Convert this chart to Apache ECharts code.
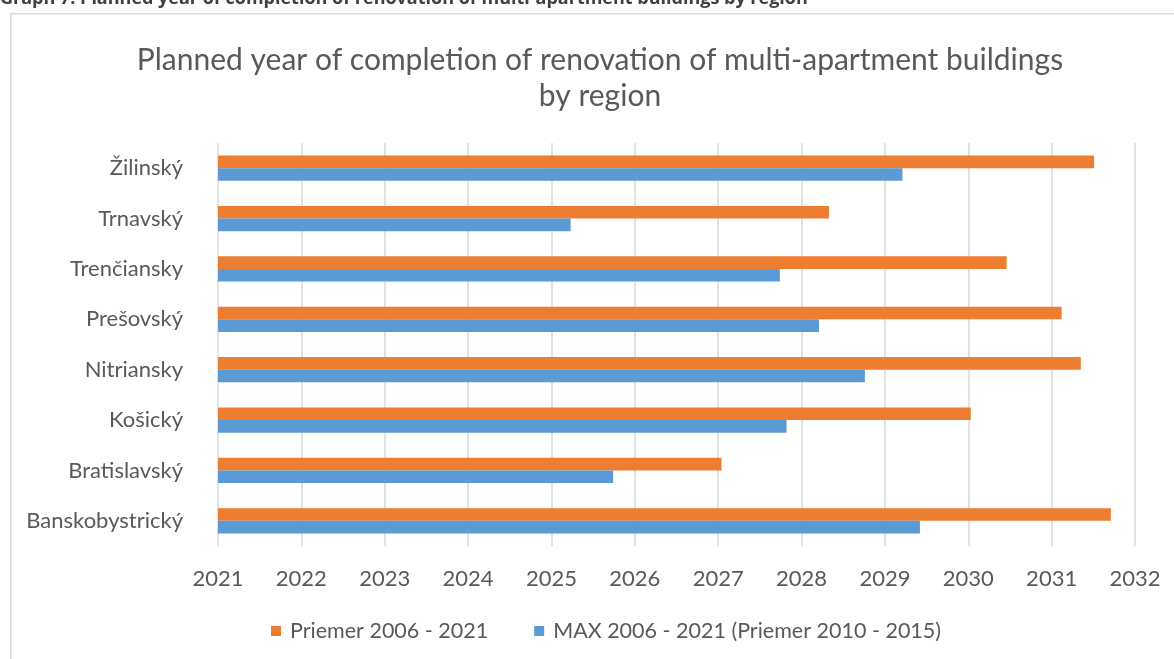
<!DOCTYPE html>
<html>
<head>
<meta charset="utf-8">
<script src="https://cdn.jsdelivr.net/npm/echarts@6/dist/echarts.min.js"></script>
<style>
  html, body { margin: 0; padding: 0; background: #fff; }
  #main { width: 1174px; height: 659px; }
</style>
</head>
<body>
<div id="main"></div>
<script>
// regions, bottom to top as drawn
var regions = ['Banskobystrický', 'Bratislavský', 'Košický', 'Nitriansky', 'Prešovský', 'Trenčiansky', 'Trnavský', 'Žilinský'];
var priemer = [2031.71, 2027.04, 2030.03, 2031.35, 2031.12, 2030.46, 2028.33, 2031.51];
var maxVals = [2029.42, 2025.74, 2027.82, 2028.76, 2028.21, 2027.74, 2025.23, 2029.21];
var seriesNames = ['Priemer 2006 - 2021', 'MAX 2006 - 2021 (Priemer 2010 - 2015)'];

var font = 'Lato';
var chart = echarts.init(document.getElementById('main'));
chart.setOption({
  animation: false,
  backgroundColor: '#fff',
  textStyle: { fontFamily: font },
  graphic: [
    {
      type: 'rect', left: 10, top: 13, z: -1,
      shape: { width: 1200, height: 700 },
      style: { fill: '#fff', stroke: '#d9d9d9', lineWidth: 1.5 }
    },
    {
      // page caption, cut off by the top edge
      type: 'text', x: 0, y: -10,
      style: {
        text: 'Graph 7: Planned year of completion of renovation of multi-apartment buildings by region',
        font: 'bold 18px "Open Sans"', fill: '#404040'
      }
    },
    {
      type: 'text', x: 600, y: 42,
      style: {
        text: 'Planned year of completion of renovation of multi-apartment buildings\nby region',
        font: '30px ' + font, fill: '#595959', textAlign: 'center', lineHeight: 36
      }
    }
  ],
  legend: {
    bottom: 12, left: 266, itemWidth: 10, itemHeight: 10, itemGap: 46,
    icon: 'rect',
    textStyle: { fontFamily: font, fontSize: 21.5, color: '#595959', padding: [0, 0, 0, 4] },
    data: seriesNames
  },
  grid: { left: 218, right: 39, top: 143, bottom: 113 },
  xAxis: {
    type: 'value', min: 2021, max: 2032, interval: 1,
    axisLine: { show: false }, axisTick: { show: false },
    splitLine: { lineStyle: { color: '#d9d9d9', width: 1.5 } },
    axisLabel: { fontSize: 22, color: '#595959', margin: 22, formatter: function (v) { return String(v); } }
  },
  yAxis: {
    type: 'category', data: regions,
    axisLine: { show: false }, axisTick: { show: false },
    axisLabel: { fontSize: 22, color: '#595959', margin: 35 }
  },
  series: [
    {
      name: seriesNames[0], type: 'bar', data: priemer,
      barGap: '0%', barCategoryGap: '50%',
      itemStyle: { color: '#ED7D31' }
    },
    {
      name: seriesNames[1], type: 'bar', data: maxVals,
      itemStyle: { color: '#5B9BD5' }
    }
  ]
});
</script>
</body>
</html>
